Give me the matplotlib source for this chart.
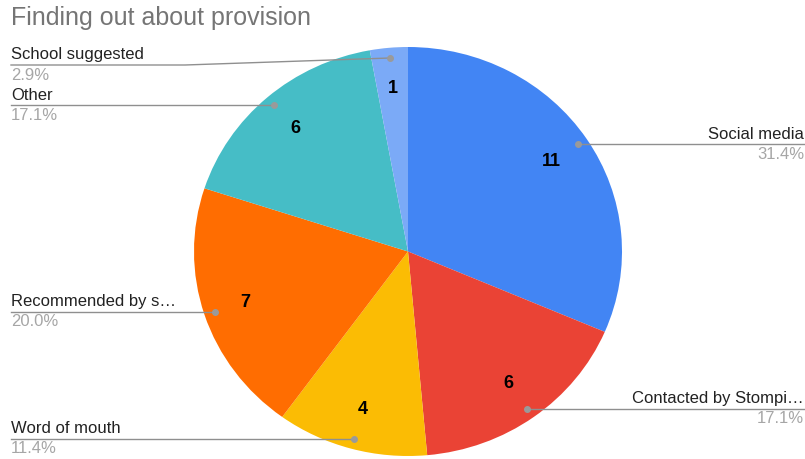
import numpy as np
import matplotlib.pyplot as plt

plt.rcParams['font.family'] = ['Liberation Sans', 'DejaVu Sans']

categories = ["Social media", "Contacted by Stompi\u2026", "Word of mouth",
              "Recommended by s\u2026", "Other", "School suggested"]
counts = [11, 6, 4, 7, 6, 1]
colors = ["#4285F4", "#EA4335", "#FBBC04", "#FF6D01", "#46BDC6", "#7BAAF7"]

# canvas geometry in pixels
W, H = 805, 459
CX, CY, RX, RY = 408, 251.5, 214, 204.5


def px(x, y):
    # pixel -> data coords
    return (x - CX) / RX, (CY - y) / RY


fig = plt.figure(figsize=(W / 100, H / 100), dpi=100)
ax = fig.add_axes([0, 0, 1, 1])

total = sum(counts)
wedges, _, autotexts = ax.pie(
    counts, colors=colors, startangle=90, counterclock=False,
    autopct=lambda p: f"{round(p * total / 100)}", pctdistance=0.8,
    wedgeprops=dict(linewidth=0),
    textprops=dict(fontsize=13, fontweight='bold', color='black'))
ax.set_aspect('auto')
ax.set_xlim(-CX / RX, (W - CX) / RX)
ax.set_ylim(-(H - CY) / RY, CY / RY)
ax.axis('off')

line_col = "#8f8f8f"
left_x = px(11, 0)[0]
right_x = px(804, 0)[0]
gap = 2.5 / RY

for w, name, n in zip(wedges, categories, counts):
    th = np.deg2rad((w.theta1 + w.theta2) / 2)
    dx, dy = 0.95 * np.cos(th), 0.95 * np.sin(th)
    pct = f"{100 * n / total:.1f}%"
    ax.plot([dx], [dy], 'o', ms=4, color="#9a9a9a", zorder=5)
    if np.cos(th) > 0:
        ax.plot([dx, right_x], [dy, dy], color=line_col, lw=1, zorder=4)
        ax.text(right_x, dy + gap, name, ha='right', va='bottom', fontsize=12, color='#222222')
        ax.text(right_x, dy - gap, pct, ha='right', va='top', fontsize=12, color='#a6a6a6')
    else:
        ly = dy
        xs, ys = [dx, left_x], [dy, dy]
        if name == "School suggested":
            ly = px(0, 65)[1]
            kx = px(185, 0)[0]
            xs, ys = [dx, kx, left_x], [dy, ly, ly]
        ax.plot(xs, ys, color=line_col, lw=1, zorder=4)
        ax.text(left_x, ly + gap, name, ha='left', va='bottom', fontsize=12, color='#222222')
        ax.text(left_x, ly - gap, pct, ha='left', va='top', fontsize=12, color='#a6a6a6')

fig.text(11 / W, 1 - 18 / H, "Finding out about provision", ha='left', va='center',
         fontsize=18, color='#757575')

fig.savefig("out.png", dpi=100)
